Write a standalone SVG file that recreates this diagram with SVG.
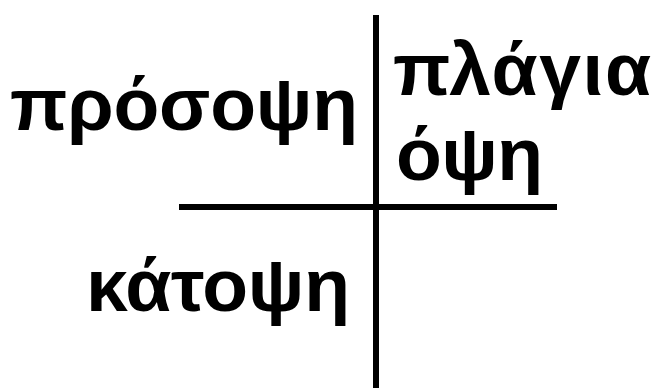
<svg xmlns="http://www.w3.org/2000/svg" width="652" height="388" viewBox="0 0 652 388">
<style>
.lbl{font-family:"Liberation Sans",Arial,sans-serif;font-weight:bold;font-size:75px;fill:#000}
.ln{stroke:#000;stroke-width:6;fill:none}
</style>
<rect width="652" height="388" fill="#fff"/>
<g id="connectors">
<line class="ln" x1="376" y1="15" x2="376" y2="388"/>
<line class="ln" x1="179" y1="207" x2="557" y2="207"/>
</g>
<g id="front"><text class="lbl" x="10" y="130" textLength="348" lengthAdjust="spacing">πρόσοψη</text></g>
<g id="side"><text class="lbl" x="393" y="95" textLength="258" lengthAdjust="spacing">πλάγια</text><text class="lbl" x="396" y="180" textLength="147" lengthAdjust="spacing">όψη</text></g>
<g id="top"><text class="lbl" x="86" y="311" textLength="264" lengthAdjust="spacing">κάτοψη</text></g>
</svg>
